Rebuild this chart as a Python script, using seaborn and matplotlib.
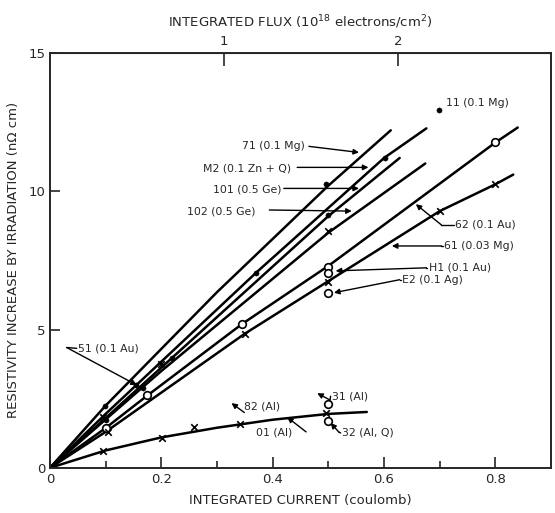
import matplotlib
matplotlib.use("Agg")
import matplotlib.pyplot as plt
import numpy as np
import pandas as pd
import seaborn as sns

# curves (integrated current in coulomb, resistivity increase in nOhm cm)
curve_x = {
    "71": [0, 0.1, 0.3, 0.5, 0.612],
    "M2": [0, 0.1, 0.37, 0.6, 0.676],
    "101": [0, 0.1, 0.5, 0.628],
    "102": [0, 0.2, 0.5, 0.674],
    "62": [0, 0.1, 0.174, 0.345, 0.5, 0.8, 0.84],
    "61": [0, 0.1, 0.35, 0.5, 0.7, 0.8, 0.832],
    "01": [0, 0.1, 0.2, 0.3, 0.4, 0.5, 0.569],
}
curve_y = {
    "71": [0, 2.25, 6.35, 10.2, 12.2],
    "M2": [0, 1.95, 7.05, 11.2, 12.27],
    "101": [0, 1.8, 9.1, 11.2],
    "102": [0, 3.5, 8.5, 11.0],
    "62": [0, 1.44, 2.6, 5.2, 7.3, 11.76, 12.3],
    "61": [0, 1.3, 4.85, 6.75, 9.28, 10.25, 10.6],
    "01": [0, 0.63, 1.1, 1.45, 1.74, 1.95, 2.02],
}

# measured points by symbol
dot_x = [0.098, 0.1, 0.155, 0.167, 0.22, 0.37, 0.495, 0.5, 0.601, 0.698]
dot_y = [2.23, 1.73, 2.99, 2.88, 3.96, 7.05, 10.25, 9.13, 11.2, 12.95]
circle_x = [0.1, 0.174, 0.345, 0.5, 0.5, 0.5, 0.8, 0.5, 0.5]
circle_y = [1.44, 2.63, 5.2, 7.27, 7.05, 6.33, 11.76, 2.3, 1.69]
cross_x = [0.095, 0.105, 0.2, 0.35, 0.5, 0.5, 0.7, 0.8,
           0.095, 0.202, 0.258, 0.342, 0.495]
cross_y = [1.83, 1.3, 3.77, 4.85, 8.56, 6.73, 9.28, 10.25,
           0.61, 1.08, 1.47, 1.58, 1.98]

# annotations: text, text position (left, center y), arrow start, arrow tip
labels = [
    ("71 (0.1 Mg)", (0.345, 11.62), (0.465, 11.62), (0.555, 11.4)),
    ("M2 (0.1 Zn + Q)", (0.274, 10.83), (0.444, 10.86), (0.572, 10.86)),
    ("101 (0.5 Ge)", (0.292, 10.07), (0.42, 10.1), (0.555, 10.1)),
    ("102 (0.5 Ge)", (0.247, 9.28), (0.394, 9.32), (0.542, 9.28)),
    ("62 (0.1 Au)", (0.728, 8.78), (0.703, 8.78), (0.657, 9.53)),
    ("61 (0.03 Mg)", (0.707, 8.02), (0.703, 8.02), (0.614, 8.02)),
    ("H1 (0.1 Au)", (0.680, 7.23), (0.676, 7.23), (0.513, 7.12)),
    ("E2 (0.1 Ag)", (0.632, 6.8), (0.628, 6.8), (0.51, 6.33)),
    ("51 (0.1 Au)", (0.05, 4.32), (0.03, 4.35), (0.156, 2.99)),
    ("82 (Al)", (0.349, 2.23), (0.349, 2.0), (0.326, 2.34)),
    ("01 (Al)", (0.37, 1.26), (0.46, 1.3), (0.426, 1.83)),
    ("31 (Al)", (0.506, 2.59), (0.503, 2.45), (0.48, 2.7)),
    ("32 (Al, Q)", (0.524, 1.26), (0.519, 1.29), (0.504, 1.62)),
]
single_label = ("11 (0.1 Mg)", (0.712, 13.2))

flux_per_coulomb = 3.2

sns.set_style("ticks")
plt.rcParams["font.family"] = ["DejaVu Sans"]

fig = plt.figure(figsize=(5.55, 5.13), dpi=100)
ax = fig.add_axes([0.090, 0.088, 0.903, 0.809])

for name in curve_x:
    sns.lineplot(x=curve_x[name], y=curve_y[name], ax=ax, color="black",
                 lw=1.8, sort=False, estimator=None)

sns.scatterplot(x=dot_x, y=dot_y, ax=ax, color="black", s=14,
                edgecolor="black", zorder=5)
sns.scatterplot(x=circle_x, y=circle_y, ax=ax, marker="o", s=30,
                facecolor="white", edgecolor="black", linewidth=1.2, zorder=5)
sns.scatterplot(x=cross_x, y=cross_y, ax=ax, marker="x", s=22,
                color="black", linewidth=1.2, zorder=5)

for text, tpos, start, tip in labels:
    ax.text(tpos[0], tpos[1], text, fontsize=7.8, ha="left", va="center")
    if start[0] < tpos[0]:
        # short dash joining the text to the leader
        ax.plot([tpos[0] - 0.002, start[0]], [tpos[1], start[1]],
                color="black", lw=1.0)
    ax.annotate("", xy=tip, xytext=start,
                arrowprops=dict(arrowstyle="-|>", color="black", lw=1.0,
                                mutation_scale=8, shrinkA=0, shrinkB=0))
ax.text(single_label[1][0], single_label[1][1], single_label[0],
        fontsize=7.8, ha="left", va="center")

ax.set_xlim(0, 0.9)
ax.set_ylim(0, 15)
ax.set_xticks([0, 0.2, 0.4, 0.6, 0.8])
ax.set_xticklabels(["0", "0.2", "0.4", "0.6", "0.8"])
ax.set_xticks([0.1, 0.3, 0.5, 0.7], minor=True)
ax.set_yticks([0, 5, 10, 15])
ax.set_yticklabels(["0", "5", "10", "15"])
ax.tick_params(axis="both", which="major", direction="in", length=8,
               width=1.2, labelsize=9.5)
ax.tick_params(axis="x", which="minor", direction="in", length=5, width=1.2)
ax.tick_params(axis="y", which="major", length=7)
for sp in ax.spines.values():
    sp.set_linewidth(1.4)
    sp.set_visible(True)

ax.set_xlabel("INTEGRATED CURRENT (coulomb)", fontsize=9.5, labelpad=6)
ax.set_ylabel("RESISTIVITY INCREASE BY IRRADIATION (n\u03a9 cm)",
              fontsize=9.5, labelpad=6)

top = ax.secondary_xaxis("top", functions=(lambda c: c * flux_per_coulomb,
                                           lambda f: f / flux_per_coulomb))
top.set_xticks([1, 2])
top.set_xticklabels(["1", "2"])
top.tick_params(direction="in", length=9, width=1.2, labelsize=9.5)
top.set_xlabel("INTEGRATED FLUX (10$^{18}$ electrons/cm$^2$)", fontsize=9.5,
               labelpad=6)

fig.savefig("out.png", dpi=100)
plt.close(fig)
